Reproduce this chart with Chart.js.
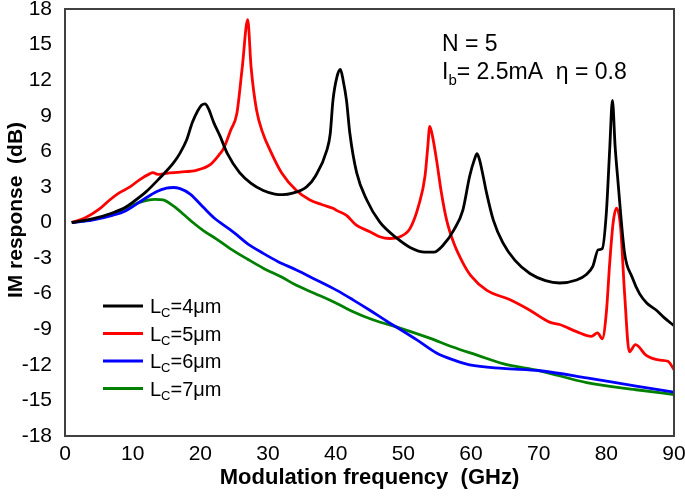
<!DOCTYPE html>
<html>
<head>
<meta charset="utf-8">
<title>IM response</title>
<script src="https://cdn.jsdelivr.net/npm/chart.js@4.4.1/dist/chart.umd.min.js"></script>
<style>
  html, body { margin: 0; padding: 0; background: #fff; }
  #wrap { width: 685px; height: 496px; }
</style>
</head>
<body>
<div id="wrap"><canvas id="imChart" width="685" height="496"></canvas></div>
<script>
// ---------- Data ----------
const cavityLengths = [4, 5, 6, 7];           // L_C in um
const lineColors = ['#000000', '#ff0000', '#0000ff', '#008000'];

const freqLc4 = [1, 4, 7, 9, 10, 12, 14, 16, 17, 18, 18.8, 19.6, 20.2, 20.7, 21.2, 22, 22.9, 24, 25.8, 27.5,
  29.3, 31, 32.2, 33.5, 35.7, 37, 38.7, 39.2, 39.6, 40.2, 40.7, 41.1, 41.6, 42.1, 43.1, 44.6, 46.5, 49, 51, 53.2,
  54.5, 55.9, 57.5, 58.8, 59.8, 60.5, 60.9, 61.3, 61.8, 62.3, 63.3, 64.7, 66.5, 68.7, 71, 73.1, 75.6, 77, 78, 78.8,
  79.4, 80, 80.5, 80.9, 81.3, 81.7, 82.7, 83.8, 84.9, 86, 87.4, 88.5, 90];
const respLc4 = [0, 0.3, 0.8, 1.3, 1.7, 2.6, 3.75, 5.0, 5.85, 7.0, 8.4, 9.4, 9.9, 10.0, 9.6, 8.4, 7.3, 5.8, 4.2, 3.3,
  2.7, 2.4, 2.35, 2.45, 3.0, 3.9, 6.1, 7.5, 10.3, 12.3, 12.9, 12.0, 10.3, 7.5, 4.2, 1.9, 0.05, -1.3, -2.1, -2.5,
  -2.5, -1.9, -0.6, 1.05, 3.9, 5.3, 5.8, 5.2, 3.9, 2.5, 0.2, -1.7, -3.2, -4.3, -4.9, -5.1, -4.85, -4.4, -3.7, -2.3,
  -2.2, 0.8, 6.2, 10.3, 6.4, 3.6, -2.6, -4.6, -6.0, -6.8, -7.4, -8.0, -8.7];

const freqLc5 = [1, 3, 5, 6.6, 8, 9.6, 11, 12.5, 13, 13.7, 15, 17, 19.4, 21.4, 22.9, 23.4, 24.5, 25.4, 26.2, 27,
  27.5, 28.3, 29.2, 30.3, 32, 34.2, 36.2, 38, 39.6, 40.2, 41.6, 43, 45.05, 46.5, 48, 49.5, 51, 52.3, 53.2, 53.6,
  53.9, 54.3, 54.9, 55.6, 56.4, 57.5, 58.8, 60, 62.3, 65.7, 68.7, 71.6, 73.1, 75.6, 77.8, 78.7, 79.4, 80, 80.5, 81,
  81.5, 82.1, 82.7, 83.4, 84.3, 85.9, 87.9, 89.1, 90];
const respLc5 = [0, 0.4, 1.1, 1.9, 2.5, 3.0, 3.6, 4.1, 4.2, 4.05, 4.15, 4.25, 4.4, 4.85, 5.8, 6.2, 7.8, 9.2, 13.1, 17.1,
  13.1, 9.5, 7.6, 6.1, 4.2, 2.7, 1.9, 1.5, 1.2, 1.0, 0.6, -0.2, -0.78, -1.2, -1.35, -1.2, -0.5, 1.5, 3.9, 6.3,
  8.1, 7.3, 5.3, 2.6, 0.2, -1.8, -3.4, -4.5, -5.7, -6.5, -7.4, -8.4, -8.6, -9.2, -9.6, -9.3, -9.8, -7.6, -3.4, -0.05,
  1.2, -0.35, -6.0, -10.9, -10.3, -11.2, -11.6, -11.7, -12.4];

const freqLc6 = [1, 4, 7, 9, 11.5, 13.5, 15, 16, 17, 18.5, 20.4, 22, 24.4, 25.4, 27, 29.3, 31.5, 34.2, 37, 40.1,
  42.5, 45.05, 47.5, 49.5, 52, 54.9, 57.5, 59.8, 64.7, 70.2, 77.1, 84.4, 90];
const respLc6 = [0, 0.2, 0.6, 1.0, 1.9, 2.6, 2.9, 2.95, 2.85, 2.4, 1.3, 0.4, -0.6, -1.05, -1.8, -2.6, -3.3, -4.0, -4.8, -5.7,
  -6.5, -7.4, -8.3, -9.0, -9.9, -11.0, -11.6, -12.0, -12.3, -12.5, -13.1, -13.8, -14.3];

const freqLc7 = [1, 4, 7, 9, 11, 13.3, 14.5, 16, 17.5, 18.9, 20.5, 22.4, 24.4, 27, 29.3, 32, 34.2, 37, 40.1, 42.5,
  45.5, 49.5, 53.9, 57.3, 61, 64.7, 70.2, 77.1, 84.4, 90];
const respLc7 = [0, 0.25, 0.7, 1.2, 1.7, 1.95, 1.9, 1.4, 0.7, 0, -0.7, -1.4, -2.2, -3.1, -3.85, -4.6, -5.3, -6.0, -6.8, -7.5,
  -8.2, -8.9, -9.75, -10.5, -11.2, -11.9, -12.5, -13.5, -14.1, -14.5];

const xTicks = [0, 10, 20, 30, 40, 50, 60, 70, 80, 90];
const yTicks = [-18, -15, -12, -9, -6, -3, 0, 3, 6, 9, 12, 15, 18];

const FONT = '"Liberation Sans", Arial, sans-serif';

// ---------- Build datasets ----------
const freqs = [freqLc4, freqLc5, freqLc6, freqLc7];
const resps = [respLc4, respLc5, respLc6, respLc7];

const datasets = cavityLengths.map((lc, i) => ({
  label: 'LC=' + lc + 'μm',
  data: freqs[i].map((f, k) => ({ x: f, y: resps[i][k] })),
  borderColor: lineColors[i],
  backgroundColor: lineColors[i],
  borderWidth: 2.8,
  pointRadius: 0,
  cubicInterpolationMode: 'monotone',
  fill: false
}));

// text with a subscript piece: parts = [[text, fontSize, baselineShift], ...]
function drawRun(ctx, x, y, parts, weight){
  let cx = x;
  for(const [txt, size, dy] of parts){
    ctx.font = (weight || '') + ' ' + size + 'px ' + FONT;
    ctx.fillText(txt, cx, y + dy);
    cx += ctx.measureText(txt).width;
  }
  return cx;
}

// frame, y title, annotation and legend
const overlay = {
  id: 'overlay',
  afterDraw(chart){
    const { ctx, chartArea: a } = chart;
    ctx.save();
    ctx.strokeStyle = '#404040';
    ctx.lineWidth = 2;
    ctx.strokeRect(a.left, a.top, a.right - a.left, a.bottom - a.top);

    ctx.fillStyle = '#000';
    ctx.textBaseline = 'alphabetic';
    ctx.textAlign = 'left';

    // y axis title
    ctx.save();
    ctx.translate(22, 210);
    ctx.rotate(-Math.PI / 2);
    ctx.textAlign = 'center';
    ctx.font = 'bold 21px ' + FONT;
    ctx.fillText('IM response  (dB)', 0, 0);
    ctx.restore();

    // annotation
    drawRun(ctx, 442, 51, [['N = 5', 23, 0]]);
    drawRun(ctx, 442, 79, [['I', 23, 0], ['b', 15, 6], ['= 2.5mA  η = 0.8', 23, 0]]);

    // legend
    chart.data.datasets.forEach((ds, i) => {
      const y = 306 + i * 27.5;
      ctx.strokeStyle = ds.borderColor;
      ctx.lineWidth = 2.8;
      ctx.beginPath();
      ctx.moveTo(103, y);
      ctx.lineTo(143, y);
      ctx.stroke();
      ctx.fillStyle = '#000';
      drawRun(ctx, 150, y + 7, [['L', 20, 0], ['C', 13, 4], ['=' + cavityLengths[i] + 'μm', 20, 0]]);
    });
    ctx.restore();
  }
};

// no extra room for half-labels hanging past the plot edges
function noOverhang(s){
  s.paddingTop = 0; s.paddingBottom = 0;
  s.paddingLeft = 0; s.paddingRight = 0;
}

// ---------- Chart ----------
const ctx = document.getElementById('imChart').getContext('2d');
const chart = new Chart(ctx, {
  type: 'line',
  data: { datasets },
  options: {
    responsive: false,
    animation: false,
    layout: { padding: { left: 0, right: 11, top: 9, bottom: 0 } },
    plugins: {
      legend: { display: false },
      tooltip: { enabled: false }
    },
    scales: {
      x: {
        type: 'linear',
        min: 0, max: 90,
        afterBuildTicks: s => { s.ticks = xTicks.map(v => ({ value: v })); },
        afterFit: s => { s.height = 60; noOverhang(s); },
        grid: { display: false, drawTicks: false },
        border: { display: false },
        ticks: { color: '#000', padding: 6, maxRotation: 0, font: { family: FONT, size: 21 } },
        title: {
          display: true,
          text: 'Modulation frequency  (GHz)',
          color: '#000',
          padding: { top: 0, bottom: 5 },
          font: { family: FONT, size: 22, weight: 'bold' }
        }
      },
      y: {
        min: -18, max: 18,
        afterBuildTicks: s => { s.ticks = yTicks.map(v => ({ value: v })); },
        afterFit: s => { s.width = 65; noOverhang(s); },
        grid: { display: false, drawTicks: false },
        border: { display: false },
        ticks: { color: '#000', padding: 13, font: { family: FONT, size: 21 } }
      }
    }
  },
  plugins: [overlay]
});
</script>
</body>
</html>
